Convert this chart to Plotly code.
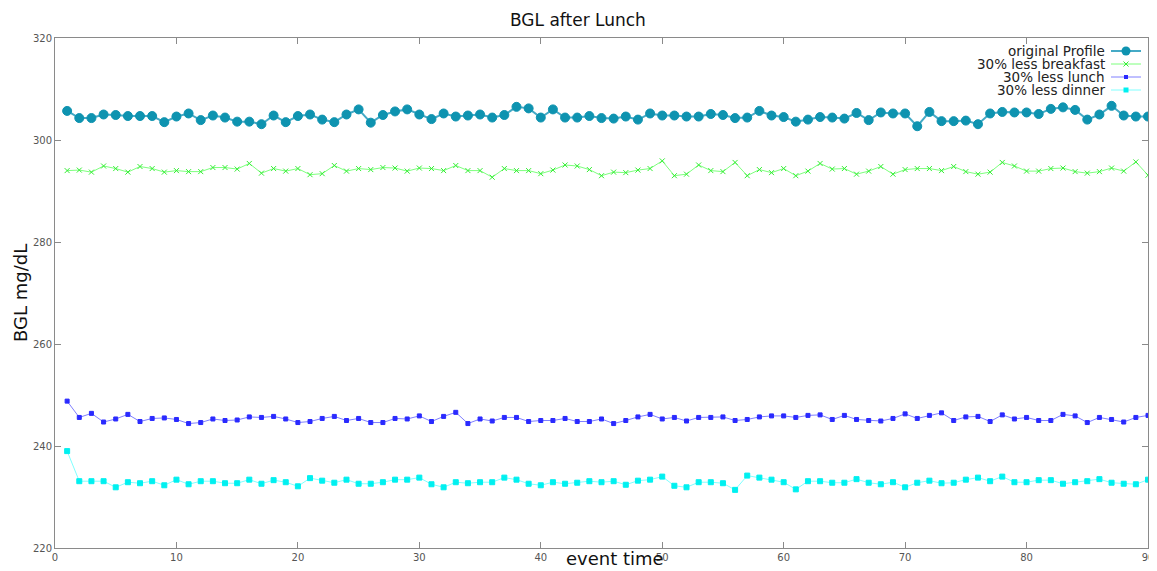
import plotly.graph_objects as go

event_time = list(range(1, 91))

original_profile = [
    305.7, 304.3, 304.3, 305.0, 304.9, 304.7, 304.7, 304.7, 303.5, 304.6,
    305.2, 303.9, 304.8, 304.4, 303.6, 303.6, 303.1, 304.8, 303.5, 304.7,
    305.0, 304.0, 303.5, 305.0, 306.0, 303.4, 304.9, 305.6, 306.0, 305.0,
    304.1, 305.2, 304.6, 304.8, 305.0, 304.4, 304.9, 306.5, 306.2, 304.4,
    306.0, 304.4, 304.4, 304.7, 304.3, 304.2, 304.6, 304.0, 305.2, 304.8,
    304.8, 304.6, 304.6, 305.1, 304.9, 304.3, 304.4, 305.7, 304.8, 304.5,
    303.6, 304.0, 304.5, 304.4, 304.2, 305.3, 303.9, 305.4, 305.2, 305.2,
    302.7, 305.5, 303.7, 303.7, 303.8, 303.1, 305.2, 305.5, 305.4, 305.4,
    305.1, 306.1, 306.4, 305.9, 304.0, 305.0, 306.7, 304.8, 304.6, 304.6,
]

less_breakfast = [
    294.0, 294.1, 293.7, 294.9, 294.4, 293.7, 294.8, 294.4, 293.7, 294.0,
    293.8, 293.8, 294.6, 294.6, 294.3, 295.4, 293.5, 294.4, 293.9, 294.4,
    293.2, 293.4, 295.0, 293.9, 294.4, 294.2, 294.6, 294.5, 293.9, 294.5,
    294.4, 294.0, 295.0, 294.0, 294.0, 292.7, 294.4, 294.0, 294.0, 293.4,
    294.1, 295.1, 294.9, 294.2, 293.0, 293.7, 293.6, 294.1, 294.4, 295.9,
    293.0, 293.3, 295.1, 294.0, 293.8, 295.6, 293.0, 294.2, 293.6, 294.4,
    293.0, 293.9, 295.4, 294.3, 294.4, 293.3, 293.9, 294.8, 293.3, 294.2,
    294.4, 294.4, 294.0, 294.8, 293.8, 293.3, 293.7, 295.6, 294.9, 293.9,
    293.9, 294.4, 294.5, 293.8, 293.5, 293.8, 294.5, 293.9, 295.7, 293.1,
]

less_lunch = [
    248.8, 245.6, 246.4, 244.7, 245.3, 246.2, 244.8, 245.4, 245.5, 245.2,
    244.4, 244.6, 245.3, 245.0, 245.1, 245.7, 245.6, 245.8, 245.3, 244.6,
    244.8, 245.4, 245.8, 245.0, 245.4, 244.6, 244.6, 245.4, 245.3, 245.9,
    244.8, 245.8, 246.6, 244.4, 245.3, 244.9, 245.6, 245.6, 244.8, 245.0,
    245.0, 245.4, 244.8, 244.8, 245.3, 244.4, 245.0, 245.7, 246.2, 245.3,
    245.6, 244.9, 245.6, 245.6, 245.7, 245.0, 245.2, 245.7, 245.9, 245.9,
    245.6, 246.0, 246.1, 245.2, 246.0, 245.2, 245.0, 244.9, 245.4, 246.3,
    245.4, 246.0, 246.5, 245.0, 245.7, 245.8, 244.8, 246.1, 245.3, 245.6,
    245.0, 245.0, 246.2, 245.9, 244.6, 245.6, 245.2, 244.7, 245.6, 246.0,
]

less_dinner = [
    239.0, 233.1, 233.1, 233.1, 231.9, 232.9, 232.7, 233.1, 232.3, 233.4,
    232.5, 233.1, 233.1, 232.7, 232.7, 233.4, 232.6, 233.3, 232.9, 232.1,
    233.7, 233.2, 232.8, 233.4, 232.6, 232.6, 232.9, 233.4, 233.4, 233.8,
    232.5, 231.9, 232.9, 232.7, 232.9, 232.9, 233.8, 233.4, 232.6, 232.3,
    232.9, 232.6, 232.8, 233.1, 232.9, 233.1, 232.4, 233.2, 233.4, 234.0,
    232.2, 231.9, 232.9, 232.9, 232.7, 231.4, 234.2, 233.8, 233.4, 232.9,
    231.5, 233.1, 233.1, 232.8, 232.8, 233.5, 232.8, 232.5, 232.9, 231.9,
    232.8, 233.2, 232.7, 232.8, 233.4, 233.8, 233.1, 234.0, 232.9, 232.9,
    233.3, 233.3, 232.6, 232.9, 233.1, 233.5, 232.8, 232.6, 232.5, 233.4,
]

series_names = ["original Profile", "30% less breakfast", "30% less lunch", "30% less dinner"]
x_ticks = [0, 10, 20, 30, 40, 50, 60, 70, 80, 90]
y_ticks = [220, 240, 260, 280, 300, 320]

styles = [
    dict(line="#45aac6", marker="#0e93b0", symbol="circle", size=9, width=2),
    dict(line="#7dff7d", marker="#33ee33", symbol="x-thin", size=5, width=1),
    dict(line="#8080ff", marker="#2a2aff", symbol="square", size=4, width=1),
    dict(line="#80ffff", marker="#00f0f0", symbol="square", size=5, width=1),
]

fig = go.Figure()
for name, ys, st in zip(series_names, [original_profile, less_breakfast, less_lunch, less_dinner], styles):
    fig.add_trace(go.Scatter(
        x=event_time, y=ys, mode="lines+markers", name=name,
        line=dict(color=st["line"], width=st["width"]),
        marker=dict(color=st["marker"], symbol=st["symbol"], size=st["size"],
                    line=dict(color=st["marker"], width=1)),
        showlegend=False,
    ))

# page body has an 8px margin; work in reference-window pixels and shift
OFF = 8
W, H = 1157 - OFF, 571 - OFF
L, R, T, B = 55 - OFF, 9, 38 - OFF, 23
pw, ph = W - L - R, H - T - B

def px(xp):
    return (xp - OFF - L) / pw

def py(yp):
    return (H - B - (yp - OFF)) / ph

annotations = [
    dict(text="BGL after Lunch", x=px(578), y=py(20), xref="paper", yref="paper",
         showarrow=False, font=dict(size=17, color="#111111", family="DejaVu Sans"),
         xanchor="center", yanchor="middle"),
    dict(text="event time", x=px(615), y=py(558), xref="paper", yref="paper",
         showarrow=False, font=dict(size=18, color="#111111", family="DejaVu Sans"),
         xanchor="center", yanchor="middle"),
    dict(text="BGL mg/dL", x=px(20), y=py(293), xref="paper", yref="paper",
         showarrow=False, textangle=-90, font=dict(size=18, color="#111111", family="DejaVu Sans"),
         xanchor="center", yanchor="middle"),
]
shapes = []
legend_rows = [51, 64, 77, 90]
for name, yrow, st in zip(series_names, legend_rows, styles):
    annotations.append(dict(text=name, x=px(1107), y=py(yrow), xref="paper", yref="paper",
                            showarrow=False, xanchor="right", yanchor="middle",
                            font=dict(size=13.5, color="#222222", family="DejaVu Sans")))
    shapes.append(dict(type="line", xref="paper", yref="paper", x0=px(1111), x1=px(1141),
                       y0=py(yrow), y1=py(yrow), line=dict(color=st["line"], width=st["width"])))
    s = st["size"] / 2
    if st["symbol"] == "x-thin":
        for sign in (1, -1):
            shapes.append(dict(type="line", xref="paper", yref="paper",
                               xsizemode="pixel", ysizemode="pixel",
                               xanchor=px(1126), yanchor=py(yrow),
                               x0=-s, x1=s, y0=-s * sign, y1=s * sign,
                               line=dict(color=st["marker"], width=1)))
    else:
        shapes.append(dict(type="circle" if st["symbol"] == "circle" else "rect",
                           xref="paper", yref="paper", xsizemode="pixel", ysizemode="pixel",
                           xanchor=px(1126), yanchor=py(yrow), x0=-s, x1=s, y0=-s, y1=s,
                           fillcolor=st["marker"], line=dict(color=st["marker"], width=0)))

axis_common = dict(
    showgrid=False, zeroline=False, showline=True, linecolor="#8a8a8a", linewidth=1,
    mirror="ticks", ticks="inside", ticklen=6, tickcolor="#8a8a8a", automargin=False,
    tickfont=dict(size=10, color="#555555", family="DejaVu Sans"),
)

fig.update_layout(
    width=W, height=H,
    margin=dict(l=L, r=R, t=T, b=B),
    paper_bgcolor="white", plot_bgcolor="white",
    xaxis=dict(range=[0, 90], tickvals=x_ticks, **axis_common),
    yaxis=dict(range=[220, 320], tickvals=y_ticks, **axis_common),
    annotations=annotations, shapes=shapes,
)

fig.write_html("out.html")
